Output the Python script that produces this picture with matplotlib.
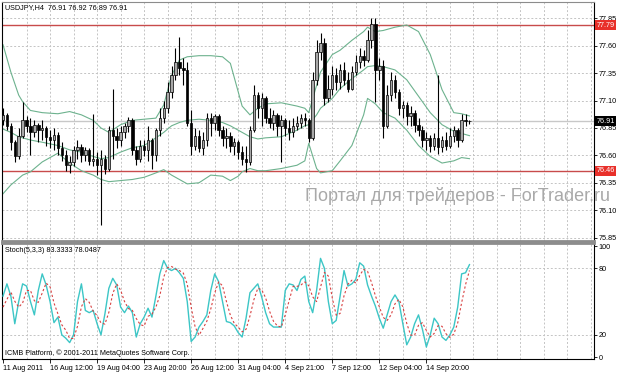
import matplotlib
matplotlib.use("Agg")
import matplotlib.pyplot as plt
import matplotlib.transforms as mtransforms

plt.rcParams['font.family'] = ['Liberation Sans', 'DejaVu Sans']

# USDJPY H4 bars (oldest first)
close = [76.97, 76.87, 76.72, 76.59, 76.78, 76.92, 76.87, 76.81, 76.88, 76.83,
         76.85, 76.77, 76.74, 76.79, 76.67, 76.60, 76.51, 76.54, 76.65, 76.68,
         76.60, 76.65, 76.55, 76.57, 76.51, 76.57, 76.48, 76.83, 76.78, 76.74,
         76.81, 76.87, 76.92, 76.65, 76.57, 76.69, 76.65, 76.74, 76.60, 76.83,
         76.94, 77.03, 77.18, 77.33, 77.45, 77.40, 77.38, 76.90, 76.69, 76.78,
         76.67, 76.74, 76.94, 76.90, 76.96, 76.83, 76.76, 76.78, 76.69, 76.72,
         76.63, 76.57, 76.54, 76.83, 77.15, 77.03, 77.12, 76.94, 76.90, 76.97,
         76.87, 76.92, 76.85, 76.81, 76.87, 76.90, 76.94, 76.92, 76.76, 77.29,
         77.54, 77.63, 77.12, 77.21, 77.33, 77.27, 77.38, 77.29, 77.21, 77.36,
         77.45, 77.51, 77.47, 77.65, 77.80, 77.38, 77.42, 76.87, 77.15, 77.29,
         77.18, 77.03, 77.06, 76.96, 76.99, 76.88, 76.83, 76.74, 76.76, 76.69,
         76.76, 76.68, 76.74, 76.69, 76.78, 76.83, 76.74, 76.92, 76.91, 76.91]
high = [77.03, 76.99, 76.90, 76.74, 76.85, 77.09, 76.96, 76.94, 76.92, 76.90,
        76.92, 76.87, 76.83, 76.85, 76.81, 76.72, 76.65, 76.59, 76.69, 76.74,
        76.70, 76.68, 76.67, 76.98, 76.63, 76.65, 76.60, 76.87, 77.21, 76.85,
        76.87, 76.90, 76.95, 76.94, 76.69, 76.74, 76.74, 76.87, 76.76, 76.85,
        77.03, 77.10, 77.27, 77.42, 77.58, 77.68, 77.49, 77.45, 77.01, 76.85,
        76.83, 76.81, 76.99, 76.99, 76.98, 76.98, 76.87, 76.85, 76.81, 76.76,
        76.74, 76.69, 76.69, 76.87, 77.24, 77.18, 77.17, 77.14, 77.03, 77.01,
        76.99, 76.97, 76.94, 76.92, 76.94, 76.96, 76.98, 76.99, 76.94, 77.36,
        77.65, 77.72, 77.67, 77.33, 77.42, 77.40, 77.43, 77.45, 77.36, 77.42,
        77.52, 77.58, 77.56, 77.74, 77.85, 77.85, 77.49, 77.47, 77.24, 77.36,
        77.33, 77.21, 77.10, 77.09, 77.05, 77.01, 76.94, 76.87, 76.81, 76.79,
        76.80, 77.33, 76.78, 76.81, 76.85, 76.87, 76.85, 76.98, 76.98, 76.92]
low = [76.88, 76.83, 76.65, 76.54, 76.57, 76.76, 76.81, 76.60, 76.77, 76.72,
       76.74, 76.69, 76.67, 76.65, 76.60, 76.55, 76.46, 76.44, 76.50, 76.57,
       76.54, 76.55, 76.51, 76.50, 76.42, 75.96, 76.43, 76.46, 76.57, 76.67,
       76.69, 76.76, 76.81, 76.60, 76.51, 76.54, 76.59, 76.55, 76.48, 76.55,
       76.78, 76.90, 76.99, 77.12, 77.29, 77.33, 77.24, 76.87, 76.60, 76.65,
       76.63, 76.60, 76.69, 76.78, 76.83, 76.78, 76.69, 76.67, 76.63, 76.60,
       76.57, 76.51, 76.45, 76.51, 76.81, 76.94, 76.87, 76.90, 76.85, 76.83,
       76.78, 76.54, 76.78, 76.74, 76.77, 76.83, 76.85, 76.87, 76.72, 76.74,
       77.24, 77.47, 77.06, 77.09, 77.15, 77.20, 77.21, 77.24, 77.18, 77.20,
       77.33, 77.40, 77.42, 77.45, 77.58, 77.09, 77.29, 76.76, 76.85, 77.10,
       77.12, 76.97, 76.94, 76.88, 76.87, 76.81, 76.78, 76.68, 76.65, 76.63,
       76.65, 76.61, 76.63, 76.65, 76.67, 76.72, 76.68, 76.72, 76.87, 76.89]
first_open = 76.92

# Bollinger bands sampled along the chart
bb_bar = [0, 2, 4, 5, 7, 10, 14, 17, 20, 23, 25, 27, 30, 33, 36, 39, 41, 43, 45, 47,
          50, 53, 56, 58, 60, 61, 63, 65, 67, 71, 75, 77, 78, 80, 81, 84, 86, 89, 92, 93,
          95, 97, 100, 103, 106, 109, 112, 115, 117, 119]
bb_upper = [77.61, 77.36, 77.15, 77.09, 77.01, 76.99, 76.98, 77.00, 76.97, 76.92,
            76.85, 76.81, 76.88, 76.92, 76.93, 76.94, 77.06, 77.33, 77.47, 77.50,
            77.51, 77.51, 77.50, 77.44, 77.18, 77.05, 76.97, 77.03, 77.07, 77.08,
            77.05, 77.03, 76.99, 77.24, 77.36, 77.52, 77.56, 77.65, 77.73, 77.77,
            77.73, 77.74, 77.77, 77.79, 77.73, 77.52, 77.20, 76.99, 76.98, 76.96]
bb_mid = [76.84, 76.81, 76.77, 76.76, 76.74, 76.72, 76.69, 76.65, 76.63, 76.59,
          76.57, 76.58, 76.63, 76.67, 76.69, 76.76, 76.81, 76.87, 76.90, 76.92,
          76.93, 76.92, 76.90, 76.87, 76.83, 76.81, 76.77, 76.75, 76.76, 76.77,
          76.83, 76.87, 76.88, 76.97, 77.03, 77.12, 77.21, 77.30, 77.38, 77.41,
          77.42, 77.41, 77.38, 77.29, 77.14, 76.99, 76.88, 76.82, 76.80, 76.78]
bb_lower = [76.25, 76.33, 76.39, 76.42, 76.45, 76.54, 76.62, 76.53, 76.46, 76.42,
            76.38, 76.36, 76.37, 76.38, 76.40, 76.44, 76.47, 76.42, 76.38, 76.34,
            76.35, 76.42, 76.41, 76.37, 76.41, 76.45, 76.48, 76.46, 76.46, 76.48,
            76.51, 76.55, 76.71, 76.48, 76.44, 76.46, 76.55, 76.69, 76.97, 77.12,
            77.07, 76.99, 76.94, 76.83, 76.69, 76.59, 76.53, 76.55, 76.58, 76.57]

# Stochastic(5,3,3): main and signal
stoch_k = [55, 66, 55, 30, 50, 66, 64, 50, 38, 60, 75, 65, 50, 31, 36, 20, 17, 13, 20, 50,
           66, 42, 40, 42, 30, 20, 39, 62, 71, 65, 45, 40, 46, 40, 18, 30, 36, 44, 36, 55,
           75, 87, 80, 78, 80, 76, 71, 50, 14, 18, 27, 32, 38, 60, 75, 68, 50, 32, 31, 28,
           22, 18, 35, 58, 62, 66, 54, 40, 30, 27, 27, 27, 60, 66, 65, 60, 70, 73, 50, 40,
           60, 89, 80, 50, 30, 33, 55, 78, 64, 66, 70, 85, 82, 65, 55, 46, 35, 26, 38, 50,
           56, 50, 30, 11, 18, 30, 38, 25, 9, 20, 35, 30, 18, 15, 20, 27, 45, 75, 76, 83.33]
stoch_d = [45, 52, 58.7, 50.3, 45, 48.7, 60, 60, 50.7, 49.3, 57.7, 66.7, 63.3, 48.7, 39,
           29, 24.3, 16.7, 16.7, 27.7, 45.3, 52.7, 49.3, 41.3, 37.3, 30.7, 29.7, 40.3, 57.3,
           66, 60.3, 50, 43.7, 42, 34.7, 29.3, 28, 36.7, 38.7, 45, 55.3, 72.3, 80.7, 81.7,
           79.3, 78, 75.7, 65.7, 45, 27.3, 19.7, 25.7, 32.3, 43.3, 57.7, 67.7, 64.3, 50,
           37.7, 30.3, 27, 22.7, 25, 37, 51.7, 62, 60.7, 53.3, 41.3, 32.3, 28, 27, 38, 51,
           63.7, 63.7, 65, 67.7, 64.3, 54.3, 50, 63, 76.3, 73, 53.3, 37.7, 39.3, 55.3, 65.7,
           69.3, 66.7, 73.7, 79, 77.3, 67.3, 55.3, 45.3, 35.7, 33, 38, 48, 52, 45.3, 30.3,
           19.7, 19.7, 28.7, 31, 24, 18, 21.3, 28.3, 27.7, 21, 17.7, 20.7, 30.7, 49, 65.3, 78.05]

level_hi = 77.79
level_lo = 76.46
last_price = 76.91

price_ticks = [75.85, 76.10, 76.35, 76.60, 76.85, 77.10, 77.35, 77.60, 77.85]
stoch_ticks = [0, 20, 80, 100]
date_bars = [0, 12, 24, 36, 48, 60, 72, 84, 96, 108]
date_labels = ["11 Aug 2011", "16 Aug 12:00", "19 Aug 04:00", "23 Aug 20:00",
               "26 Aug 12:00", "31 Aug 04:00", "4 Sep 21:00", "7 Sep 12:00",
               "12 Sep 04:00", "14 Sep 20:00"]

W, H = 623, 373
GRID = dict(color='#c4c4c4', lw=0.7, ls=(0, (2, 2)), zorder=0)
XLIM = (-0.26, 150.77)
FS = 5.2

fig = plt.figure(figsize=(W / 100, H / 100), dpi=100)
fig.patch.set_facecolor('white')

ax = fig.add_axes([2 / W, 1 - 240.5 / H, 592 / W, 238.5 / H])
ax2 = fig.add_axes([2 / W, 1 - 359 / H, 592 / W, 116.5 / H])

# --- price panel ---
bars = range(len(close))
opens = [first_open] + close[:-1]
for v in range(6, 151, 6):
    ax.axvline(v, **GRID)
    ax2.axvline(v, **GRID)
for p in price_ticks:
    ax.axhline(p, **GRID)

ax.axhline(last_price, color='#c8c8c8', lw=1.0, zorder=1)
ax.axhline(level_hi, color='#c84b4b', lw=1.0, zorder=1)
ax.axhline(level_lo, color='#c84b4b', lw=1.0, zorder=1)

for line in (bb_upper, bb_mid, bb_lower):
    ax.plot(bb_bar, line, color='#6db28e', lw=0.8, zorder=2)

ax.vlines(bars, low, high, color='black', lw=0.8, zorder=3)
for i in bars:
    o, c = opens[i], close[i]
    fc = '#a8a8a8' if c >= o else 'black'
    ax.bar(i, max(abs(c - o), 0.002), bottom=min(o, c), width=0.62,
           color=fc, edgecolor='black', linewidth=0.5, zorder=4)

ax.set_xlim(*XLIM)
ax.set_ylim(75.823, 78.0)
ax.set_xticks([])
ax.yaxis.tick_right()
ax.set_yticks(price_ticks)
ax.set_yticklabels([f"{p:.2f}" for p in price_ticks])
ax.tick_params(axis='y', length=2.5, width=0.6, pad=1, labelsize=FS)
for s in ('left', 'right'):
    ax.spines[s].set_color('black')
    ax.spines[s].set_linewidth(0.8)
ax.spines['top'].set_color('#8c8c8c')
ax.spines['bottom'].set_color('#8c8c8c')
ax.spines['bottom'].set_linewidth(2.0)

tr = mtransforms.blended_transform_factory(ax.transAxes, ax.transData)
for val, bg in ((level_hi, '#e8302a'), (level_lo, '#e8302a'), (last_price, 'black')):
    ax.text(1.004, val, f"{val:.2f}", transform=tr, ha='left', va='center',
            fontsize=FS, color='white', clip_on=False, zorder=6,
            bbox=dict(boxstyle='square,pad=0.2', fc=bg, ec='none'))

# --- stochastic panel ---
ax2.axhline(20, **GRID)
ax2.axhline(80, **GRID)
ax2.plot(bars, stoch_k, color='#3cc6c6', lw=1.0, zorder=3)
ax2.plot(bars, stoch_d, color='#d84040', lw=0.8, ls=(0, (2, 2)), zorder=4)
ax2.set_xlim(*XLIM)
ax2.set_ylim(-1.8, 103.3)
ax2.yaxis.tick_right()
ax2.set_yticks(stoch_ticks)
ax2.set_yticklabels([str(t) for t in stoch_ticks])
ax2.tick_params(axis='y', length=2.5, width=0.6, pad=1, labelsize=FS)
ax2.set_xticks(date_bars)
ax2.set_xticklabels(date_labels, ha='left')
ax2.tick_params(axis='x', length=3, width=0.6, pad=1.5, labelsize=FS)
for s in ('left', 'right', 'bottom'):
    ax2.spines[s].set_color('black')
    ax2.spines[s].set_linewidth(0.8)
ax2.spines['top'].set_color('#8c8c8c')
ax2.spines['top'].set_linewidth(2.0)

# --- captions ---
fig.text(5 / W, 1 - 8 / H, "USDJPY,H4  76.91 76.92 76.89 76.91", fontsize=FS, va='center')
fig.text(5 / W, 1 - 250 / H, "Stoch(5,3,3) 83.3333 78.0487", fontsize=FS, va='center')
fig.text(5 / W, 1 - 353 / H, "ICMB Platform, \u00a9 2001-2011 MetaQuotes Software Corp.",
         fontsize=FS, va='center')
fig.text(305 / W, 1 - 196 / H, "Портал для трейдеров - ForTrader.ru", fontsize=13,
         color='#a9a9a9', va='center', ha='left')

fig.savefig("out.png", dpi=100, facecolor='white')
